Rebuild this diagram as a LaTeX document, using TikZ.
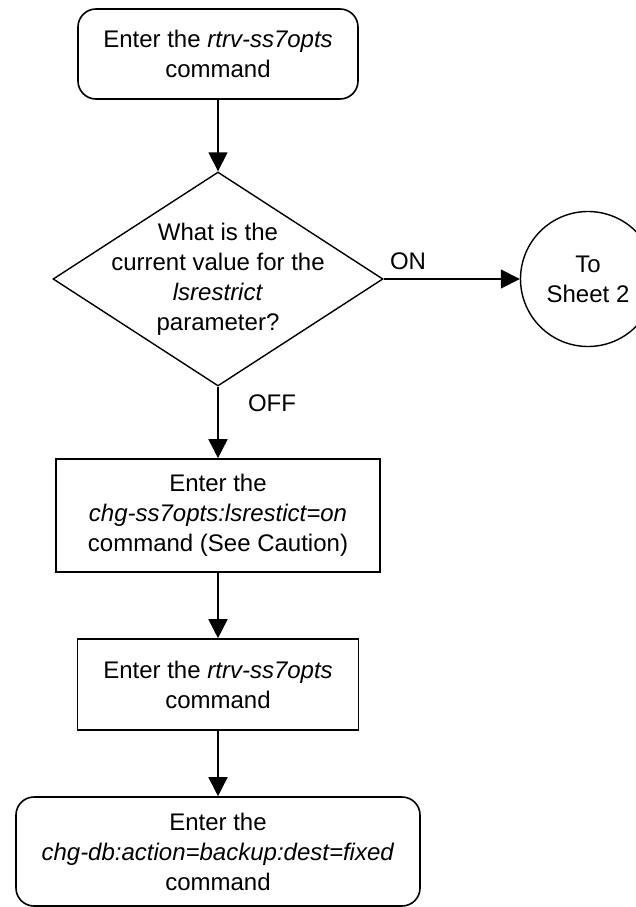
\documentclass[tikz,border=0pt]{standalone}
\usepackage{fontspec}
\setmainfont{Liberation Sans}
\usetikzlibrary{shapes.geometric,arrows.meta}
\begin{document}
\begin{tikzpicture}[x=1pt,y=-1pt,
  every node/.style={font=\fontsize{24}{30}\selectfont, align=center, inner sep=0pt},
  termbox/.style={draw, rounded corners=18pt, line width=1.6pt},
  procbox/.style={draw, line width=1.6pt},
  decision/.style={draw, diamond, line width=1.4pt},
  connector/.style={draw, circle, line width=1.4pt},
  flow/.style={line width=1.6pt, -{Triangle[length=19pt,width=19pt]}}
]
\useasboundingbox (0,0) rectangle (636,907);
\clip (0,0) rectangle (636,907);
\node[termbox, minimum width=280pt, minimum height=90pt] (start) at (218,54) {Enter the \textit{rtrv-ss7opts}\\command};
\node[decision, minimum width=330pt, minimum height=214pt] (dec) at (218,279) {};
\node (dectext) at (dec.center) {What is the\\current value for the\\\textit{lsrestrict}\\parameter?};
\node[connector, minimum size=135pt] (sheet2) at (588,279) {To\\Sheet 2};
\node[procbox, minimum width=324pt, minimum height=113pt] (chg) at (218,515.5) {Enter the\\\textit{chg-ss7opts:lsrestict=on}\\command (See Caution)};
\node[procbox, minimum width=281pt, minimum height=91pt] (rtrv) at (218,684.5) {Enter the \textit{rtrv-ss7opts}\\command};
\node[termbox, minimum width=404pt, minimum height=109pt] (backup) at (218,851.5) {Enter the\\\textit{chg-db:action=backup:dest=fixed}\\command};
\node (on) at (408,261) {ON};
\node (off) at (272,403) {OFF};
\draw[flow] (start.south) -- (dec.north);
\draw[flow] (dec.east) -- (sheet2.west);
\draw[flow] (dec.south) -- (chg.north);
\draw[flow] (chg.south) -- (rtrv.north);
\draw[flow] (rtrv.south) -- (backup.north);
\end{tikzpicture}
\end{document}
